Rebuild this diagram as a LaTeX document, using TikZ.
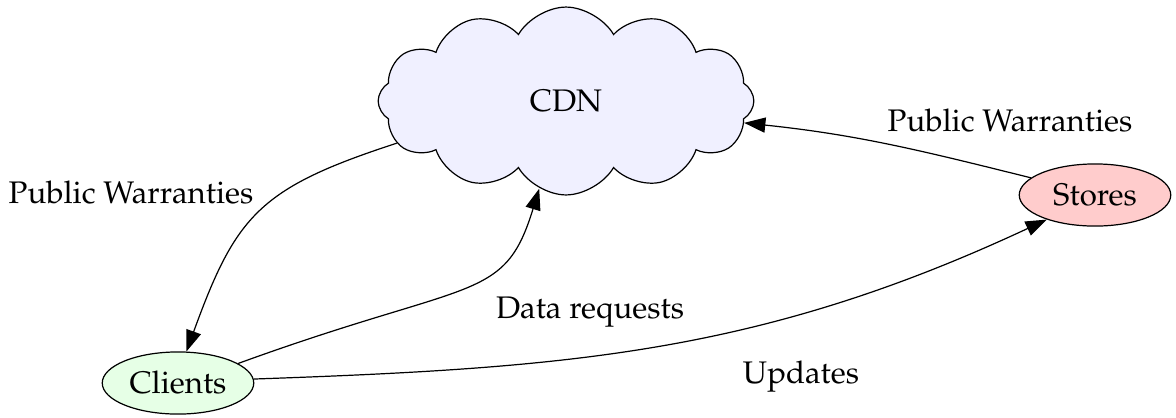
\documentclass[tikz,border=0pt]{standalone}
\usepackage[T1]{fontenc}
\usepackage{mathpazo}
\usetikzlibrary{shapes.symbols,shapes.geometric,arrows.meta}
\definecolor{cdnfill}{RGB}{240,240,255}
\definecolor{clientfill}{RGB}{230,255,230}
\definecolor{storefill}{RGB}{255,204,204}
\begin{document}
\begin{tikzpicture}[
          x=.33pt, y=.33pt,
          every node/.style={font=\fontsize{10.3}{12}\selectfont},
          cdnbox/.style={cloud, draw, fill=cdnfill, cloud puffs=12,
                         cloud puff arc=120, aspect=2,
                         minimum width=124pt, minimum height=62pt, inner sep=0pt},
          peer/.style={ellipse, draw, inner sep=0pt,
                       minimum width=50pt, minimum height=20.5pt},
          flow/.style={-{Triangle[length=7pt,width=5pt]}, line width=.4pt}]
            \useasboundingbox (0,0) rectangle (1176,417);

            \node[cdnbox] (cdn) at (566,316) {CDN};
            \node[peer, fill=clientfill] (clients) at (178,34) {Clients};
            \node[peer, fill=storefill] (stores) at (1095,222) {Stores};

            % labels
            \node (pwleft)  at (131,224) {Public Warranties};
            \node (pwright) at (1010,296) {Public Warranties};
            \node (datareq) at (590,105) {Data requests};
            \node (updates) at (801,40) {Updates};

            % edges
            \draw[flow] (cdn.194) to[out=198, in=70, looseness=1.25] (clients.75);
            \draw[flow] (clients.18) .. controls +(20:250) and +(253:120) .. (cdn.253);
            \draw[flow] (clients.3) to[out=2, in=205] (stores.207);
            \draw[flow] (stores.165) to[out=166, in=354] (cdn.353);
          \end{tikzpicture}
\end{document}
